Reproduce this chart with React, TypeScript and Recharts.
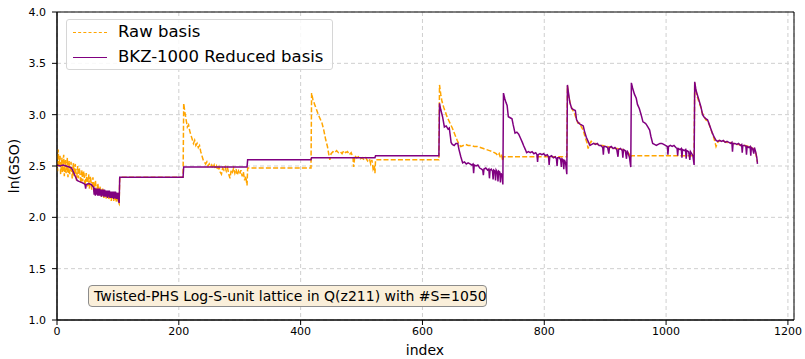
import React from 'react'
import {
  LineChart,
  Line,
  XAxis,
  YAxis,
  CartesianGrid,
  ReferenceArea,
  Label
} from 'recharts'

// values, [index, ln(GSO)]
const rawStart: number[][] = [
  [0, 2.62], [1, 2.45], [2, 2.66], [3, 2.5], [5, 2.6], [6, 2.42], [8, 2.58], [9, 2.44],
  [11, 2.61], [12, 2.4], [14, 2.56], [15, 2.43], [17, 2.58], [18, 2.39], [20, 2.55], [21, 2.42],
  [23, 2.54], [25, 2.38], [27, 2.53], [28, 2.4], [30, 2.52], [32, 2.36], [34, 2.5], [35, 2.38],
  [37, 2.48], [39, 2.33], [41, 2.46], [42, 2.35], [44, 2.45], [46, 2.31], [48, 2.43], [50, 2.3],
  [52, 2.42], [53, 2.28], [55, 2.4], [57, 2.27], [59, 2.39], [61, 2.25], [63, 2.36], [65, 2.24],
  [67, 2.33], [69, 2.22], [71, 2.3], [73, 2.2], [75, 2.28], [77, 2.19], [79, 2.26], [81, 2.18],
  [83, 2.25], [85, 2.17], [87, 2.24], [89, 2.16], [91, 2.23], [93, 2.16], [95, 2.22], [97, 2.15],
  [99, 2.21], [101, 2.14], [102, 2.13],
  [103, 2.39], [207, 2.39]
]

const rawMid: number[][] = [
  [208, 3.11], [210, 3.02], [212, 2.95], [214, 2.88], [216, 2.9], [218, 2.84], [220, 2.8], [222, 2.76],
  [224, 2.72], [226, 2.75], [228, 2.7], [230, 2.72], [232, 2.68], [234, 2.7], [236, 2.64], [238, 2.6],
  [240, 2.56], [242, 2.54], [244, 2.52], [246, 2.54], [248, 2.5], [250, 2.52], [252, 2.49], [254, 2.51],
  [256, 2.48], [258, 2.51], [260, 2.47], [262, 2.5], [264, 2.46], [266, 2.49], [268, 2.44], [270, 2.42],
  [272, 2.48], [274, 2.46], [276, 2.49], [278, 2.45], [280, 2.48], [282, 2.42], [284, 2.38], [286, 2.46],
  [288, 2.44], [290, 2.48], [292, 2.43], [294, 2.47], [296, 2.41], [298, 2.45], [300, 2.42], [302, 2.46],
  [304, 2.4], [306, 2.44], [308, 2.36], [310, 2.4], [312, 2.31],
  [313, 2.48], [417, 2.48],
  [418, 3.21], [420, 3.15], [423, 3.1], [426, 3.05], [429, 3.0], [432, 2.96], [435, 2.92], [438, 2.85],
  [441, 2.76], [444, 2.69], [446, 2.62], [448, 2.56], [450, 2.62], [453, 2.64], [456, 2.63], [459, 2.65],
  [462, 2.63], [465, 2.64], [468, 2.62], [471, 2.65], [474, 2.63], [477, 2.64], [480, 2.61], [483, 2.63],
  [486, 2.58], [487, 2.49], [489, 2.6], [492, 2.58], [495, 2.59], [498, 2.57], [501, 2.58], [504, 2.56],
  [507, 2.58], [510, 2.55], [513, 2.57], [515, 2.52], [517, 2.56], [519, 2.47], [521, 2.5], [522, 2.43],
  [523, 2.56], [627, 2.56]
]

const rawEnd: number[][] = [
  [628, 3.29], [630, 3.2], [632, 3.13], [635, 3.07], [638, 3.02], [641, 2.97], [645, 2.92], [649, 2.87],
  [653, 2.81], [657, 2.75], [660, 2.71], [663, 2.69], [667, 2.7], [671, 2.71], [675, 2.7], [680, 2.7],
  [685, 2.69], [690, 2.69], [695, 2.68], [700, 2.67], [705, 2.66], [710, 2.65], [715, 2.64], [718, 2.63],
  [721, 2.62], [724, 2.6], [726, 2.62], [728, 2.58], [730, 2.6], [732, 2.55],
  [733, 2.59], [837, 2.59],
  [838, 3.28], [840, 3.18], [843, 3.1], [846, 3.05], [849, 3.02], [852, 2.97], [855, 2.92], [858, 2.92],
  [861, 2.88], [864, 2.85], [867, 2.78], [870, 2.73], [872, 2.67], [874, 2.71], [877, 2.74], [880, 2.72],
  [884, 2.72], [888, 2.71], [892, 2.7], [896, 2.7], [900, 2.69], [904, 2.69], [908, 2.68], [912, 2.68],
  [916, 2.67], [920, 2.67], [924, 2.66], [928, 2.66], [932, 2.65], [936, 2.64], [939, 2.62], [942, 2.58],
  [943, 2.6], [1046, 2.6],
  [1047, 3.31], [1050, 3.2], [1053, 3.14], [1056, 3.09], [1059, 3.02], [1062, 2.99], [1065, 2.95], [1068, 2.94],
  [1071, 2.9], [1074, 2.85], [1077, 2.8], [1080, 2.74], [1082, 2.69], [1084, 2.72], [1087, 2.75], [1091, 2.74],
  [1095, 2.74], [1100, 2.73], [1105, 2.73], [1110, 2.72], [1115, 2.71], [1120, 2.71], [1125, 2.7], [1130, 2.7],
  [1135, 2.69], [1140, 2.68], [1144, 2.66], [1147, 2.63], [1150, 2.54]
]

const bkzStart: number[][] = [
  [0, 2.51], [5, 2.5], [10, 2.51], [15, 2.5], [20, 2.49], [24, 2.48], [27, 2.44], [30, 2.4],
  [33, 2.36], [36, 2.35], [40, 2.34], [44, 2.33], [46, 2.32], [47, 2.28], [48, 2.32], [52, 2.33],
  [56, 2.32], [59, 2.3],
  [60, 2.29], [61, 2.22], [62, 2.29], [63, 2.21], [64, 2.28], [65, 2.22], [66, 2.28], [67, 2.21],
  [68, 2.28], [69, 2.21], [70, 2.28], [71, 2.21], [72, 2.27], [73, 2.2], [74, 2.27], [75, 2.21],
  [76, 2.27], [77, 2.2], [78, 2.27], [79, 2.2], [80, 2.26], [81, 2.2], [82, 2.26], [83, 2.19],
  [84, 2.26], [85, 2.2], [86, 2.26], [87, 2.19], [88, 2.25], [89, 2.19], [90, 2.25], [91, 2.19],
  [92, 2.25], [93, 2.18], [94, 2.25], [95, 2.19], [96, 2.25], [97, 2.18], [98, 2.24], [99, 2.18],
  [100, 2.24], [101, 2.17], [102, 2.14],
  [103, 2.39], [207, 2.39],
  [208, 2.49], [312, 2.49],
  [313, 2.56], [417, 2.56],
  [418, 2.58], [522, 2.58],
  [523, 2.6], [627, 2.6]
]

const bkzMid: number[][] = [
  [628, 3.11], [630, 3.05], [633, 2.98], [636, 2.88], [639, 2.89], [642, 2.86], [644, 2.87], [646, 2.78],
  [647, 2.73], [649, 2.71], [652, 2.7], [655, 2.72], [658, 2.72], [660, 2.66], [663, 2.59], [666, 2.53],
  [669, 2.54], [672, 2.52], [675, 2.53], [678, 2.52], [681, 2.51], [683, 2.52], [684, 2.43], [685, 2.51],
  [688, 2.5], [691, 2.51], [694, 2.48], [697, 2.47], [699, 2.46], [700, 2.41], [701, 2.47], [704, 2.48],
  [707, 2.46], [709, 2.47], [710, 2.38], [711, 2.46], [713, 2.47], [715, 2.45], [716, 2.37], [717, 2.46],
  [719, 2.45], [720, 2.36], [721, 2.46], [723, 2.44], [724, 2.35], [725, 2.45], [727, 2.44], [728, 2.34],
  [729, 2.43], [731, 2.4], [732, 2.32],
  [733, 3.21], [735, 3.16], [737, 3.12], [739, 3.09], [741, 2.98], [744, 2.97], [747, 2.96], [749, 2.9],
  [752, 2.82], [755, 2.83], [758, 2.81], [761, 2.77], [764, 2.73], [766, 2.7], [769, 2.66], [771, 2.63],
  [774, 2.64], [777, 2.63], [780, 2.64], [783, 2.62], [786, 2.63], [788, 2.61], [789, 2.54], [790, 2.61],
  [793, 2.62], [796, 2.61], [799, 2.62], [802, 2.6], [805, 2.61], [807, 2.59], [808, 2.51], [809, 2.59],
  [812, 2.6], [815, 2.58], [818, 2.59], [820, 2.57], [821, 2.5], [822, 2.58], [825, 2.58], [827, 2.56],
  [828, 2.49], [829, 2.57], [831, 2.56], [832, 2.47], [833, 2.56], [835, 2.53], [837, 2.42]
]

const bkzEnd: number[][] = [
  [838, 3.29], [840, 3.2], [842, 3.12], [845, 3.06], [848, 3.05], [851, 3.04], [853, 2.95], [856, 2.92],
  [858, 2.91], [861, 2.9], [864, 2.89], [866, 2.84], [869, 2.78], [872, 2.74], [875, 2.7], [878, 2.71],
  [881, 2.72], [884, 2.71], [887, 2.72], [890, 2.7], [893, 2.7], [896, 2.68], [897, 2.61], [898, 2.69],
  [901, 2.69], [904, 2.68], [906, 2.62], [907, 2.68], [910, 2.69], [913, 2.67], [916, 2.68], [919, 2.66],
  [921, 2.59], [922, 2.66], [925, 2.67], [928, 2.65], [929, 2.58], [930, 2.66], [933, 2.65], [935, 2.57],
  [936, 2.65], [938, 2.62], [940, 2.58], [942, 2.49],
  [943, 3.31], [945, 3.26], [948, 3.2], [951, 3.16], [953, 3.1], [956, 3.06], [959, 3.0], [962, 2.93],
  [965, 2.92], [967, 2.91], [970, 2.88], [973, 2.85], [975, 2.79], [978, 2.72], [981, 2.71], [984, 2.7],
  [987, 2.71], [990, 2.72], [993, 2.72], [996, 2.71], [999, 2.7], [1002, 2.69], [1003, 2.61], [1004, 2.69],
  [1007, 2.7], [1010, 2.69], [1013, 2.7], [1016, 2.68], [1018, 2.67], [1019, 2.6], [1020, 2.67], [1023, 2.66],
  [1025, 2.67], [1026, 2.58], [1027, 2.66], [1030, 2.65], [1032, 2.66], [1033, 2.57], [1034, 2.65], [1037, 2.64],
  [1039, 2.56], [1040, 2.64], [1042, 2.62], [1044, 2.6], [1046, 2.51],
  [1047, 3.32], [1049, 3.24], [1052, 3.18], [1054, 3.14], [1057, 3.08], [1060, 3.0], [1062, 2.98], [1065, 2.96],
  [1068, 2.95], [1070, 2.92], [1073, 2.87], [1076, 2.82], [1079, 2.78], [1082, 2.75], [1085, 2.74], [1088, 2.75],
  [1091, 2.74], [1094, 2.75], [1097, 2.73], [1100, 2.74], [1103, 2.73], [1106, 2.72], [1108, 2.73], [1109, 2.64],
  [1110, 2.72], [1113, 2.72], [1116, 2.71], [1119, 2.72], [1122, 2.7], [1124, 2.71], [1125, 2.63], [1126, 2.7],
  [1129, 2.7], [1131, 2.69], [1132, 2.61], [1133, 2.69], [1136, 2.68], [1138, 2.69], [1139, 2.6], [1140, 2.68],
  [1142, 2.67], [1144, 2.62], [1145, 2.68], [1147, 2.64], [1149, 2.58], [1150, 2.52]
]

const xTicks = [0, 200, 400, 600, 800, 1000, 1200]
const yTicks = [1.0, 1.5, 2.0, 2.5, 3.0, 3.5, 4.0]

const rawColor = '#ffa500'
const bkzColor = '#800080'
const font = '"DejaVu Sans", sans-serif'

const toPoints = (rows: number[][]) => rows.map(([x, y]) => ({ x, y }))
const rawData = toPoints([...rawStart, ...rawMid, ...rawEnd])
const bkzData = toPoints([...bkzStart, ...bkzMid, ...bkzEnd])

export default function App() {
  return (
    <div style={{ position: 'absolute', left: 0, top: 0, width: 805, height: 359, background: '#fff', fontFamily: font }}>
      <LineChart width={805} height={359} margin={{ top: 12, right: 11, bottom: 0, left: 0 }}>
        <CartesianGrid stroke="#cfcfcf" strokeDasharray="4 3" />
        <XAxis
          type="number"
          dataKey="x"
          domain={[0, 1210]}
          ticks={xTicks}
          height={39}
          tickSize={5}
          tickMargin={2}
          stroke="#000"
          tick={{ fill: '#000', fontSize: 11, fontFamily: font }}
          allowDataOverflow
        >
          <Label
            content={() => (
              <text x={425} y={350} textAnchor="middle" dominantBaseline="central" fontSize={14} fontFamily={font} fill="#000">
                index
              </text>
            )}
          />
        </XAxis>
        <YAxis
          type="number"
          domain={[1, 4]}
          ticks={yTicks}
          width={57}
          tickSize={5}
          tickMargin={6}
          stroke="#000"
          tickFormatter={(v: number) => v.toFixed(1)}
          tick={{ fill: '#000', fontSize: 11, fontFamily: font }}
          allowDataOverflow
        >
          <Label
            content={() => (
              <text x={14} y={166} transform="rotate(-90, 14, 166)" textAnchor="middle" dominantBaseline="central" fontSize={14} fontFamily={font} fill="#000">
                ln(GSO)
              </text>
            )}
          />
        </YAxis>
        <ReferenceArea x1={0} x2={1210} y1={1} y2={4} fill="none" stroke="#000" strokeWidth={1} />
        <Line
          data={rawData}
          dataKey="y"
          type="linear"
          stroke={rawColor}
          strokeWidth={1.5}
          strokeDasharray="5 2.2"
          dot={false}
          isAnimationActive={false}
        />
        <Line
          data={bkzData}
          dataKey="y"
          type="linear"
          stroke={bkzColor}
          strokeWidth={1.5}
          dot={false}
          isAnimationActive={false}
        />
      </LineChart>

      <div
        style={{
          position: 'absolute', left: 66, top: 19, width: 267, height: 51,
          border: '1px solid #d6d6d6', borderRadius: 3, background: 'rgba(255,255,255,0.85)',
          boxSizing: 'border-box', fontSize: 16.5, color: '#000'
        }}
      >
        <div style={{ position: 'absolute', left: 6, top: 12, width: 34, borderTop: `1.4px dashed ${rawColor}` }} />
        <div style={{ position: 'absolute', left: 51, top: 2, lineHeight: '20px' }}>Raw basis</div>
        <div style={{ position: 'absolute', left: 6, top: 37, width: 34, borderTop: `1.4px solid ${bkzColor}` }} />
        <div style={{ position: 'absolute', left: 51, top: 27, lineHeight: '20px', whiteSpace: 'nowrap' }}>BKZ-1000 Reduced basis</div>
      </div>

      <div
        style={{
          position: 'absolute', left: 88, top: 285, width: 399, height: 22,
          border: '1px solid #8c8c8c', borderRadius: 4, background: '#faefda',
          boxSizing: 'border-box', fontSize: 14, color: '#000', lineHeight: '20px',
          paddingLeft: 5, whiteSpace: 'nowrap'
        }}
      >
        Twisted-PHS Log-S-unit lattice in Q(z211) with #S=1050
      </div>
    </div>
  )
}
